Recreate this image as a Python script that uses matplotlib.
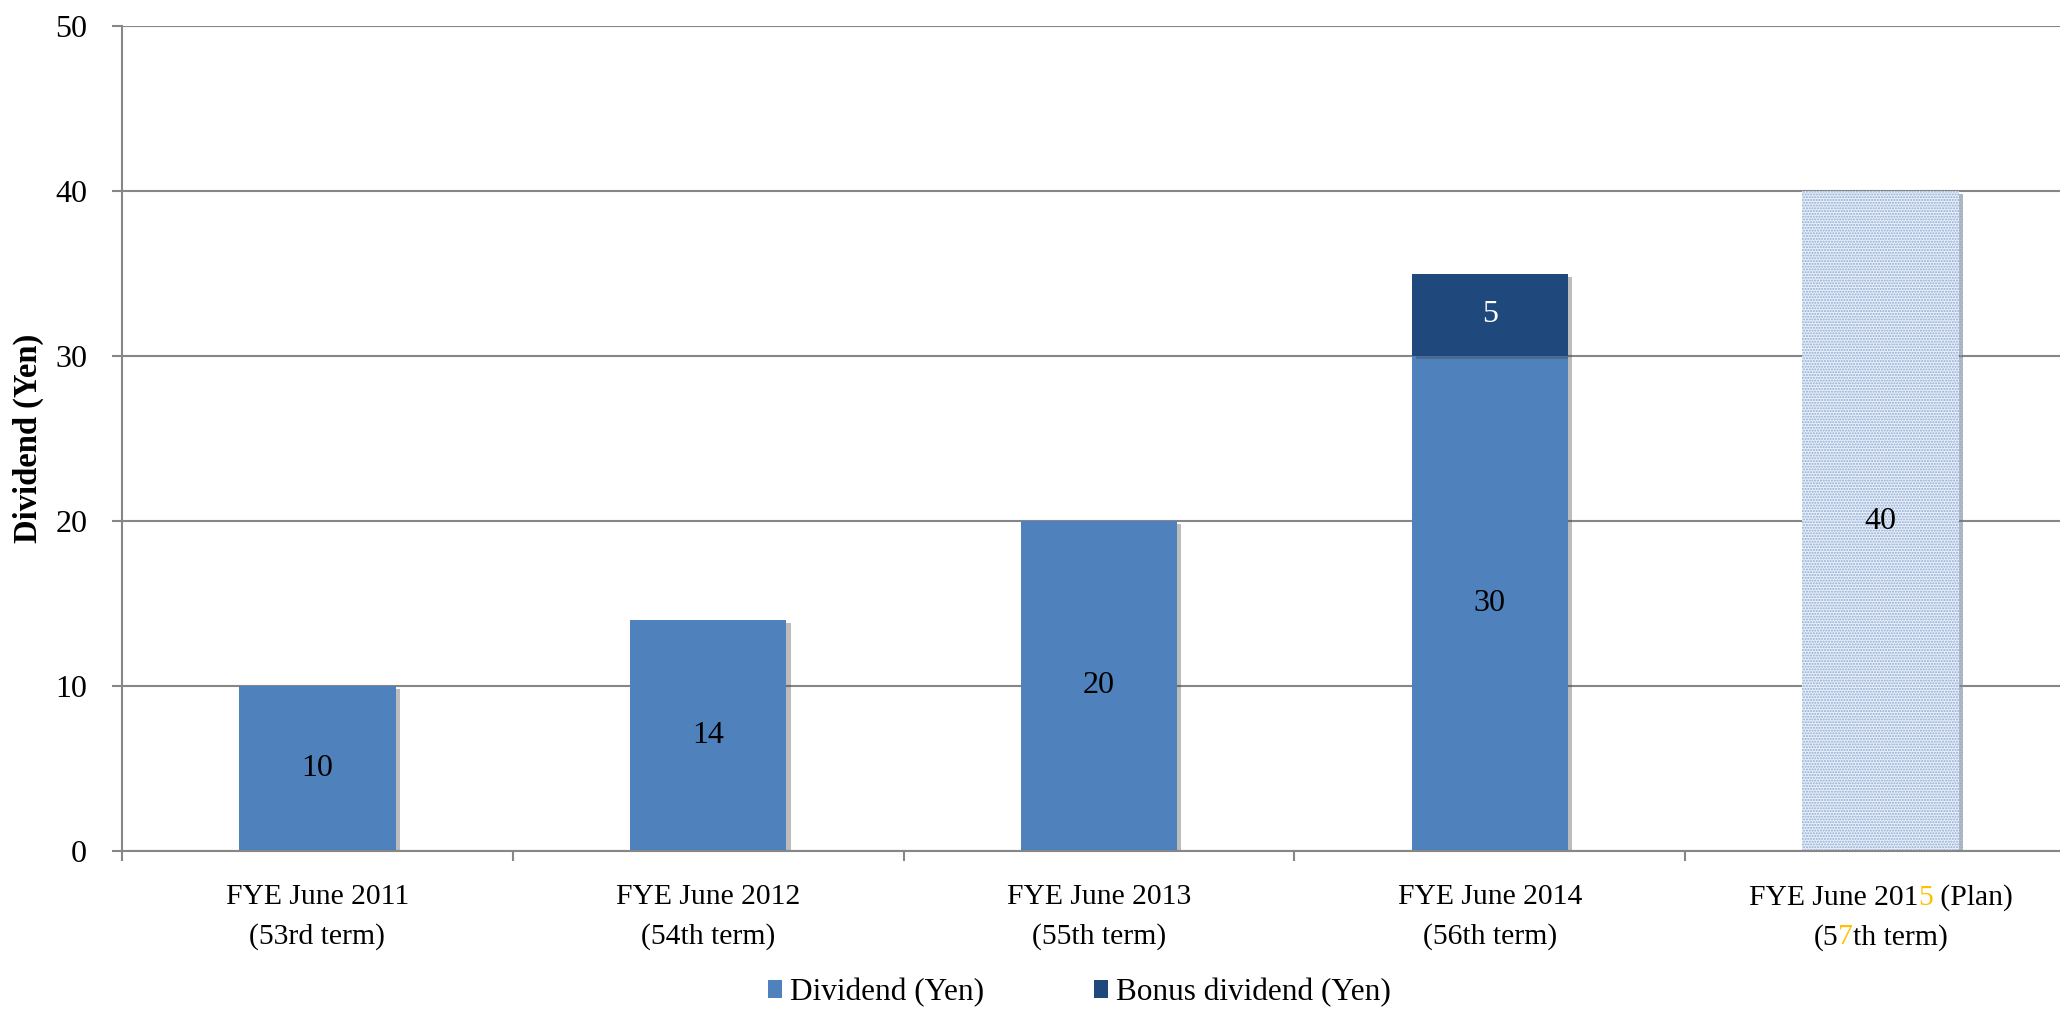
import matplotlib.pyplot as plt
import matplotlib.patheffects as pe
from matplotlib.patches import Patch
from matplotlib.offsetbox import TextArea, HPacker, VPacker, AnnotationBbox
import numpy as np

plt.rcParams['font.family'] = ['Liberation Serif', 'DejaVu Serif']
plt.rcParams['hatch.linewidth'] = 1.0

periods = ["FYE June 2011", "FYE June 2012", "FYE June 2013",
           "FYE June 2014", "FYE June 2015 (Plan)"]
terms = ["(53rd term)", "(54th term)", "(55th term)", "(56th term)", "(57th term)"]
# characters drawn in orange: (label index, line, char position)
orange_marks = [(4, 0, 12), (4, 1, 2)]

dividend = [10, 14, 20, 30, 0]
bonus = [0, 0, 0, 5, 0]
plan = [0, 0, 0, 0, 40]
legend_labels = ["Dividend (Yen)", "Bonus dividend (Yen)"]

c_div = '#4F81BD'
c_bonus = '#1F497D'
c_grid = '#868686'
c_orange = '#FFC000'

shadow = [pe.SimplePatchShadow(offset=(3, -2.5), shadow_rgbFace='0.25', alpha=0.35),
          pe.Normal()]


def label_box(idx):
    lines = []
    for ln, s in enumerate([periods[idx], terms[idx]]):
        cuts = sorted(p for (i, l, p) in orange_marks if i == idx and l == ln)
        parts, start = [], 0
        for p in cuts:
            if p > start:
                parts.append((s[start:p], 'black'))
            parts.append((s[p], c_orange))
            start = p + 1
        if start < len(s):
            parts.append((s[start:], 'black'))
        areas = [TextArea(t, textprops=dict(color=c, fontsize=21.3)) for t, c in parts]
        lines.append(HPacker(children=areas, align='baseline', pad=0, sep=0))
    return VPacker(children=lines, align='center', pad=0, sep=9)


fig = plt.figure(figsize=(20.6, 10.09), dpi=100)
ax = fig.add_axes([0.0592, 0.1566, 0.9486, 0.8176])

x = np.arange(len(periods))
div = np.array(dividend, dtype=float)
bon = np.array(bonus, dtype=float)
pln = np.array(plan, dtype=float)

m = div > 0
b1 = ax.bar(x[m], div[m], width=0.4, color=c_div, zorder=2)
m2 = bon > 0
b2 = ax.bar(x[m2], bon[m2], bottom=div[m2], width=0.4, color=c_bonus, zorder=2)
m3 = pln > 0
b3 = ax.bar(x[m3], pln[m3], width=0.4, facecolor='#eaf0f8', edgecolor='#8eaad6',
            hatch='......', linewidth=0, zorder=2)
for bars in (b1, b2, b3):
    for r in bars:
        r.set_path_effects(shadow)

for i in x[m]:
    ax.text(i, div[i] / 2, f"{dividend[i]:g}", ha='center', va='center',
            fontsize=23, color='black', zorder=3)
for i in x[m2]:
    ax.text(i, div[i] + bon[i] / 2, f"{bonus[i]:g}", ha='center', va='center',
            fontsize=23, color='white', zorder=3)
for i in x[m3]:
    ax.text(i, pln[i] / 2, f"{plan[i]:g}", ha='center', va='center',
            fontsize=23, color='black', zorder=3)

ax.set_xlim(-0.5, len(periods) - 0.5)
ax.set_ylim(0, 50)
ax.set_yticks(np.arange(0, 51, 10))
ax.set_xticks(np.arange(-0.5, len(periods), 1))
ax.set_xticklabels([])
ax.tick_params(axis='y', length=7, width=1.5, color=c_grid, pad=18, labelsize=23)
ax.tick_params(axis='x', length=7, width=1.5, color=c_grid)
ax.yaxis.grid(True, color=c_grid, linewidth=1.5)
ax.set_axisbelow(True)
for s in ('top', 'right'):
    ax.spines[s].set_visible(False)
for s in ('left', 'bottom'):
    ax.spines[s].set_color(c_grid)
    ax.spines[s].set_linewidth(1.5)

ax.set_ylabel("Dividend (Yen)", fontsize=23.5, fontweight='bold')
ax.yaxis.set_label_coords(-0.040, 0.5)

for i in x:
    ab = AnnotationBbox(label_box(i), (i, 0), xycoords='data',
                        xybox=(0, -24), boxcoords='offset points',
                        box_alignment=(0.5, 1), frameon=False, annotation_clip=False)
    ax.add_artist(ab)

handles = [Patch(facecolor=c_div), Patch(facecolor=c_bonus)]
fig.legend(handles, legend_labels, loc='center', bbox_to_anchor=(0.524, 0.016),
           ncol=2, frameon=False, fontsize=22.5, handlelength=0.45, handleheight=0.5,
           handletextpad=0.25, columnspacing=3.5, borderpad=0.1)

fig.savefig('out.png', dpi=100)
